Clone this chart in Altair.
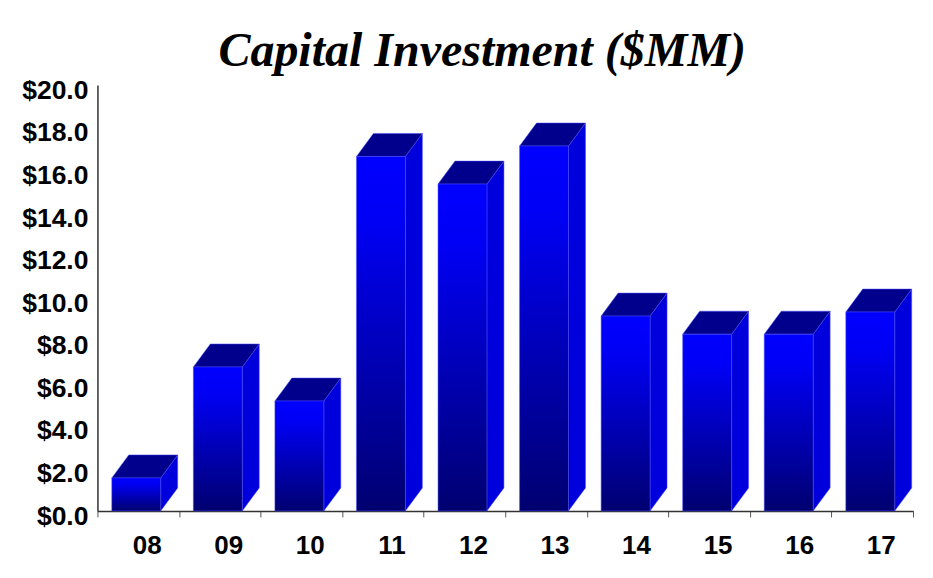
import altair as alt
import pandas as pd

categories = ["08", "09", "10", "11", "12", "13", "14", "15", "16", "17"]
values = [1.55, 6.76, 5.16, 16.65, 15.35, 17.14, 9.15, 8.3, 8.3, 9.34]
y_ticks = [0, 2, 4, 6, 8, 10, 12, 14, 16, 18, 20]
x_ticks = list(range(11))

BAR_START = 0.176   # bar start inside its band
BAR_WIDTH = 0.60    # bar width in band units
DEPTH_X = 0.208     # 3D depth, in band units
DEPTH_Y = 1.08      # 3D depth, in value units

rows = []
for i, (c, v) in enumerate(zip(categories, values)):
    rows.append({"cat": c, "v": v, "x0": i + BAR_START, "x1": i + BAR_START + BAR_WIDTH,
                 "label_x": i + 0.61, "zero": 0})
front = pd.DataFrame(rows)

side_rows, top_rows = [], []
for r in rows:
    side_rows.append({"cat": r["cat"], "x": r["x1"], "lo": 0, "hi": r["v"]})
    side_rows.append({"cat": r["cat"], "x": r["x1"] + DEPTH_X, "lo": DEPTH_Y, "hi": r["v"] + DEPTH_Y})
    top_rows.append({"cat": r["cat"], "y": r["v"], "a": r["x0"], "b": r["x1"]})
    top_rows.append({"cat": r["cat"], "y": r["v"] + DEPTH_Y, "a": r["x0"] + DEPTH_X, "b": r["x1"] + DEPTH_X})
side = pd.DataFrame(side_rows)
top = pd.DataFrame(top_rows)

x_scale = alt.Scale(domain=[0, 10], nice=False, zero=False)
y_scale = alt.Scale(domain=[0, 20], nice=False)
EDGE = "#4a4aff"

gradient = alt.Gradient(
    gradient="linear", x1=0, y1=0, x2=0, y2=1,
    stops=[alt.GradientStop(offset=0, color="#0000ff"),
           alt.GradientStop(offset=0.18, color="#0000f5"),
           alt.GradientStop(offset=1, color="#000070")],
)

x_axis = alt.Axis(values=x_ticks, labels=False, title=None, grid=False, tickSize=6,
                  tickColor="#555555", domainColor="#333333", domainWidth=1.5, tickWidth=1)
y_axis = alt.Axis(values=y_ticks, title=None, grid=False, tickSize=0, labelPadding=9.5,
                  labelExpr="'$' + format(datum.value, '.1f')", labelFont="Liberation Sans",
                  labelFontSize=26.5, labelFontWeight="bold", labelColor="#000000",
                  labelOffset=5.2, domainColor="#333333", domainWidth=1.5, labelOverlap=False,
                  labelBound=False, labelFlush=False)

front_layer = alt.Chart(front).mark_bar(fill=gradient, stroke=EDGE, strokeWidth=0.5).encode(
    x=alt.X("x0:Q", scale=x_scale, axis=x_axis),
    x2="x1:Q",
    y=alt.Y("zero:Q", scale=y_scale, axis=y_axis),
    y2="v:Q",
)
side_layer = alt.Chart(side).mark_area(color="#0000dc", stroke=EDGE, strokeWidth=0.5, orient="vertical").encode(
    x=alt.X("x:Q", scale=x_scale),
    y=alt.Y("lo:Q", scale=y_scale),
    y2="hi:Q",
    detail="cat:N",
)
top_layer = alt.Chart(top).mark_area(color="#00008c", stroke=EDGE, strokeWidth=0.5, orient="horizontal").encode(
    y=alt.Y("y:Q", scale=y_scale),
    x=alt.X("a:Q", scale=x_scale),
    x2="b:Q",
    detail="cat:N",
)
labels = alt.Chart(front).mark_text(font="Liberation Sans", fontSize=26, fontWeight="bold",
                                    color="#000000", dy=35).encode(
    x=alt.X("label_x:Q", scale=x_scale),
    y=alt.Y("zero:Q", scale=y_scale),
    text="cat:N",
)

chart = (
    alt.layer(side_layer, top_layer, front_layer, labels)
    .properties(
        width=816,
        height=426,
        padding={"left": 89.5, "top": 77, "right": 12, "bottom": 59},
        autosize=alt.AutoSizeParams(type="none"),
        background="#ffffff",
        title=alt.TitleParams("Capital Investment ($MM)", font="Liberation Serif", fontSize=48,
                              fontWeight="bold", fontStyle="italic", color="#000000",
                              anchor="middle", dx=-23, offset=1),
    )
    .configure_view(stroke=None)
)

chart.save("out.html", embed_options={"renderer": "svg", "actions": False})
